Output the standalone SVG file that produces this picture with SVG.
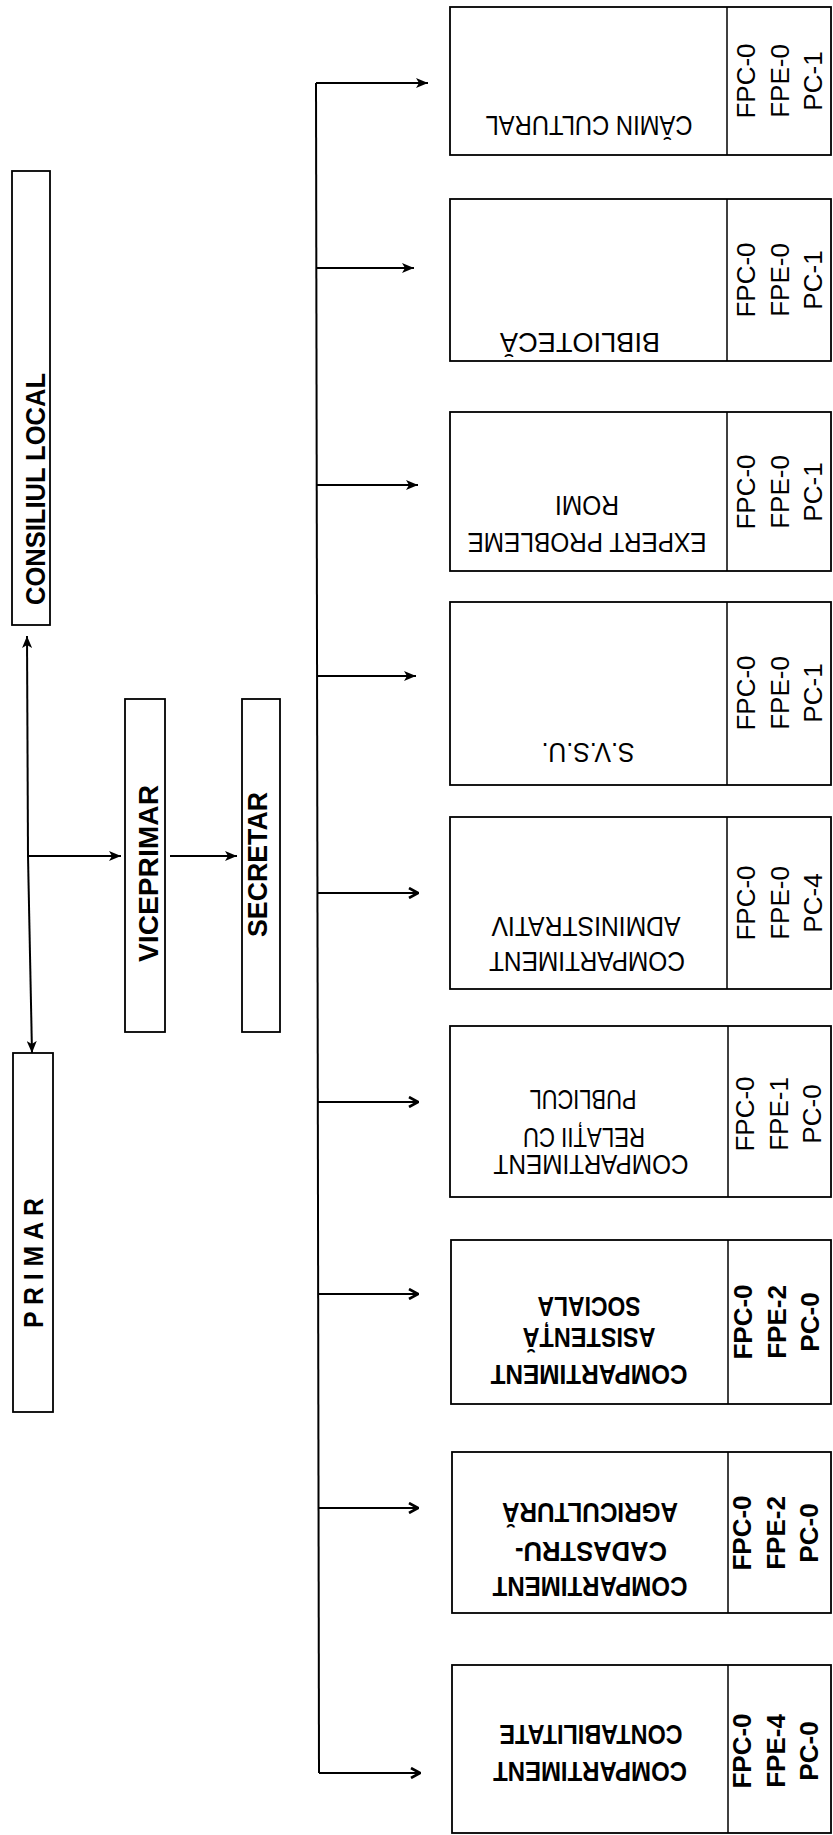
<svg xmlns="http://www.w3.org/2000/svg" width="833" height="1835" viewBox="0 0 833 1835">
<style>
.box{fill:#fff;stroke:#000;stroke-width:1.8}
.div{stroke:#000;stroke-width:1.5}
.lbl{font-family:"Liberation Sans",Arial,sans-serif;font-size:28px;fill:#000;text-anchor:middle}
.b{font-weight:bold}
.num{font-family:"Liberation Sans",Arial,sans-serif;font-size:26px;fill:#000;text-anchor:middle}
.head{font-family:"Liberation Sans",Arial,sans-serif;font-size:28px;font-weight:bold;fill:#000}
.ln{fill:none;stroke:#000;stroke-width:2}
</style>
<defs>
<marker id="af" viewBox="0 0 12 10" refX="12" refY="5" markerWidth="12" markerHeight="10" markerUnits="userSpaceOnUse" orient="auto"><path d="M0,0 L12,5 L0,10 L3,5 z" fill="#000"/></marker>
<marker id="ao" viewBox="0 0 12 12" refX="11" refY="6" markerWidth="12" markerHeight="12" markerUnits="userSpaceOnUse" orient="auto"><path d="M2,1 L11,6 L2,11" fill="none" stroke="#000" stroke-width="2.6"/></marker>
</defs>

<g id="consiliul-local">
<rect class="box" x="12" y="171" width="38" height="454"/>
<text class="head" transform="translate(45,605) rotate(-90)" textLength="232" lengthAdjust="spacingAndGlyphs">CONSILIUL LOCAL</text>
</g>
<g id="primar">
<rect class="box" x="13" y="1053" width="40" height="359"/>
<text class="head" transform="translate(43,1328) rotate(-90)" textLength="130" lengthAdjust="spacingAndGlyphs">P R I M A R</text>
</g>
<g id="viceprimar">
<rect class="box" x="125" y="699" width="40" height="333"/>
<text class="head" transform="translate(158,962) rotate(-90)" textLength="177" lengthAdjust="spacingAndGlyphs">VICEPRIMAR</text>
</g>
<g id="secretar">
<rect class="box" x="242" y="699" width="38" height="333"/>
<text class="head" transform="translate(267,937) rotate(-90)" textLength="145" lengthAdjust="spacingAndGlyphs">SECRETAR</text>
</g>

<g id="camin-cultural">
<rect class="box" x="450" y="7" width="381" height="148"/>
<line class="div" x1="727" y1="7" x2="727" y2="155"/>
<text class="lbl" transform="translate(589,116) rotate(180)" textLength="207" lengthAdjust="spacingAndGlyphs">CĂMIN CULTURAL</text>
<text class="num" transform="translate(755,81) rotate(-90)">FPC-0</text>
<text class="num" transform="translate(789,81) rotate(-90)">FPE-0</text>
<text class="num" transform="translate(822,81) rotate(-90)">PC-1</text>
</g>
<g id="biblioteca">
<rect class="box" x="450" y="199" width="381" height="162"/>
<line class="div" x1="727" y1="199" x2="727" y2="361"/>
<text class="lbl" transform="translate(580,333) rotate(180)" textLength="160" lengthAdjust="spacingAndGlyphs">BIBLIOTECĂ</text>
<text class="num" transform="translate(755,280) rotate(-90)">FPC-0</text>
<text class="num" transform="translate(789,280) rotate(-90)">FPE-0</text>
<text class="num" transform="translate(822,280) rotate(-90)">PC-1</text>
</g>
<g id="expert-probleme-romi">
<rect class="box" x="450" y="412" width="381" height="159"/>
<line class="div" x1="727" y1="412" x2="727" y2="571"/>
<text class="lbl" transform="translate(587,533) rotate(180)" textLength="239" lengthAdjust="spacingAndGlyphs">EXPERT PROBLEME</text>
<text class="lbl" transform="translate(587,496) rotate(180)" textLength="64" lengthAdjust="spacingAndGlyphs">ROMI</text>
<text class="num" transform="translate(755,492) rotate(-90)">FPC-0</text>
<text class="num" transform="translate(789,492) rotate(-90)">FPE-0</text>
<text class="num" transform="translate(822,492) rotate(-90)">PC-1</text>
</g>
<g id="svsu">
<rect class="box" x="450" y="602" width="381" height="183"/>
<line class="div" x1="727" y1="602" x2="727" y2="785"/>
<text class="lbl" transform="translate(588,743) rotate(180)" textLength="93" lengthAdjust="spacingAndGlyphs">S.V.S.U.</text>
<text class="num" transform="translate(755,693) rotate(-90)">FPC-0</text>
<text class="num" transform="translate(789,693) rotate(-90)">FPE-0</text>
<text class="num" transform="translate(822,693) rotate(-90)">PC-1</text>
</g>
<g id="compartiment-administrativ">
<rect class="box" x="450" y="817" width="381" height="172"/>
<line class="div" x1="727" y1="817" x2="727" y2="989"/>
<text class="lbl" transform="translate(587,952) rotate(180)" textLength="196" lengthAdjust="spacingAndGlyphs">COMPARTIMENT</text>
<text class="lbl" transform="translate(586,917) rotate(180)" textLength="189" lengthAdjust="spacingAndGlyphs">ADMINISTRATIV</text>
<text class="num" transform="translate(755,903) rotate(-90)">FPC-0</text>
<text class="num" transform="translate(789,903) rotate(-90)">FPE-0</text>
<text class="num" transform="translate(822,903) rotate(-90)">PC-4</text>
</g>
<g id="compartiment-relatii">
<rect class="box" x="450" y="1026" width="381" height="171"/>
<line class="div" x1="728" y1="1026" x2="728" y2="1197"/>
<text class="lbl" transform="translate(591,1155) rotate(180)" textLength="195" lengthAdjust="spacingAndGlyphs">COMPARTIMENT</text>
<text class="lbl" transform="translate(584,1128) rotate(180)" textLength="122" lengthAdjust="spacingAndGlyphs">RELAȚII CU</text>
<text class="lbl" transform="translate(583,1090) rotate(180)" textLength="107" lengthAdjust="spacingAndGlyphs">PUBLICUL</text>
<text class="num" transform="translate(754,1114) rotate(-90)">FPC-0</text>
<text class="num" transform="translate(788,1114) rotate(-90)">FPE-1</text>
<text class="num" transform="translate(821,1114) rotate(-90)">PC-0</text>
</g>
<g id="compartiment-asistenta">
<rect class="box" x="451" y="1240" width="380" height="164"/>
<line class="div" x1="728" y1="1240" x2="728" y2="1404"/>
<text class="lbl b" transform="translate(589,1365) rotate(180)" textLength="197" lengthAdjust="spacingAndGlyphs">COMPARTIMENT</text>
<text class="lbl b" transform="translate(589,1328) rotate(180)" textLength="133" lengthAdjust="spacingAndGlyphs">ASISTENȚĂ</text>
<text class="lbl b" transform="translate(589,1297) rotate(180)" textLength="103" lengthAdjust="spacingAndGlyphs">SOCIALA</text>
<text class="num b" transform="translate(752,1322) rotate(-90)">FPC-0</text>
<text class="num b" transform="translate(786,1322) rotate(-90)">FPE-2</text>
<text class="num b" transform="translate(819,1322) rotate(-90)">PC-0</text>
</g>
<g id="compartiment-cadastru">
<rect class="box" x="452" y="1452" width="379" height="161"/>
<line class="div" x1="728" y1="1452" x2="728" y2="1613"/>
<text class="lbl b" transform="translate(590,1577) rotate(180)" textLength="195" lengthAdjust="spacingAndGlyphs">COMPARTIMENT</text>
<text class="lbl b" transform="translate(591,1542) rotate(180)" textLength="152" lengthAdjust="spacingAndGlyphs">CADASTRU-</text>
<text class="lbl b" transform="translate(590,1503) rotate(180)" textLength="176" lengthAdjust="spacingAndGlyphs">AGRICULTURĂ</text>
<text class="num b" transform="translate(751,1533) rotate(-90)">FPC-0</text>
<text class="num b" transform="translate(785,1533) rotate(-90)">FPE-2</text>
<text class="num b" transform="translate(818,1533) rotate(-90)">PC-0</text>
</g>
<g id="compartiment-contabilitate">
<rect class="box" x="452" y="1665" width="379" height="168"/>
<line class="div" x1="728" y1="1665" x2="728" y2="1833"/>
<text class="lbl b" transform="translate(590,1762) rotate(180)" textLength="194" lengthAdjust="spacingAndGlyphs">COMPARTIMENT</text>
<text class="lbl b" transform="translate(591,1725) rotate(180)" textLength="183" lengthAdjust="spacingAndGlyphs">CONTABILITATE</text>
<text class="num b" transform="translate(751,1751) rotate(-90)">FPC-0</text>
<text class="num b" transform="translate(785,1751) rotate(-90)">FPE-4</text>
<text class="num b" transform="translate(818,1751) rotate(-90)">PC-0</text>
</g>

<g id="connectors">
<path class="ln" d="M28,856 L27,636" marker-end="url(#af)"/>
<path class="ln" d="M28,856 L32,1053" marker-end="url(#af)"/>
<path class="ln" d="M28,856 L121,856" stroke-width="2.5" marker-end="url(#af)"/>
<path class="ln" d="M170,856 L237,856" stroke-width="2.5" marker-end="url(#af)"/>
<path class="ln" d="M316,83 L319,1773"/>
<path class="ln" d="M316,83 L428,83" stroke-width="3.5" marker-end="url(#af)"/>
<path class="ln" d="M316,268 L414,268" marker-end="url(#af)"/>
<path class="ln" d="M317,485 L418,485" marker-end="url(#af)"/>
<path class="ln" d="M317,676 L416,676" marker-end="url(#af)"/>
<path class="ln" d="M317,893 L418,893" marker-end="url(#ao)"/>
<path class="ln" d="M317,1102 L418,1102" marker-end="url(#ao)"/>
<path class="ln" d="M318,1294 L418,1294" marker-end="url(#ao)"/>
<path class="ln" d="M318,1508 L418,1508" marker-end="url(#ao)"/>
<path class="ln" d="M319,1773 L420,1773" marker-end="url(#ao)"/>
</g>
</svg>
